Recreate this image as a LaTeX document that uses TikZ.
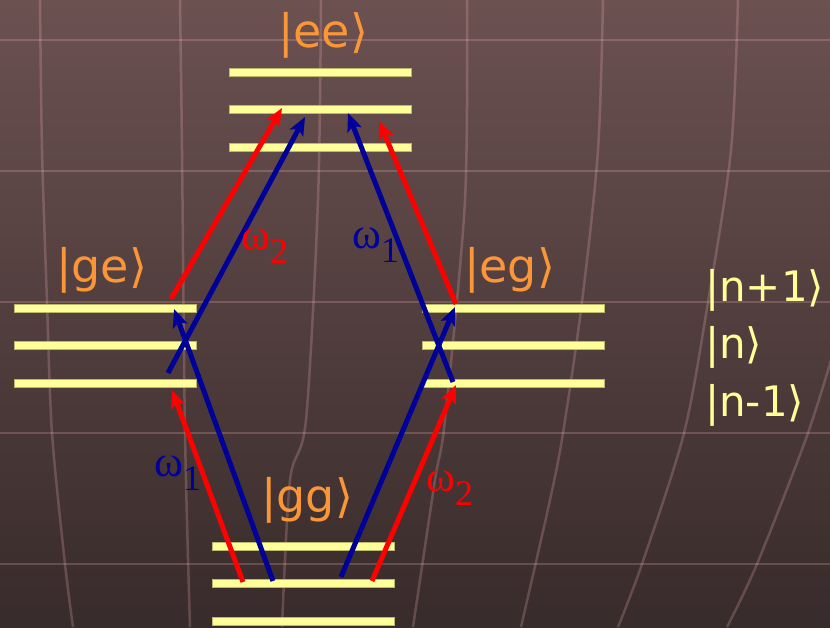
\documentclass[tikz,border=0pt]{standalone}
\usepackage{fontspec}
\setmainfont{DejaVu Sans}
\newfontfamily\greekfont{Liberation Serif}
\definecolor{BgTop}{RGB}{108,81,81}
\definecolor{BgBottom}{RGB}{56,43,43}
\definecolor{GridPink}{RGB}{255,190,190}
\definecolor{LevelYellow}{RGB}{255,255,153}
\definecolor{LevelEdge}{RGB}{185,185,110}
\definecolor{StateOrange}{RGB}{250,150,55}
\definecolor{FieldRed}{RGB}{255,0,0}
\definecolor{FieldBlue}{RGB}{0,0,153}
\usetikzlibrary{arrows.meta}

\newcommand{\omegasub}[1]{ω\raisebox{-14pt}{\fontsize{36}{36}\selectfont #1}}

\tikzset{
  levelbar/.style={fill=LevelYellow,draw=LevelEdge,line width=0.6pt},
  gridline/.style={GridPink,opacity=0.22,line width=2.5pt},
  photon/.style={line width=5pt,-{Stealth[length=18pt,width=15pt,inset=4pt]}},
  statelabel/.style={text=StateOrange,font=\fontsize{46}{46}\selectfont,anchor=base west,inner sep=0pt},
  phononlabel/.style={text=LevelYellow,font=\fontsize{42}{42}\selectfont,anchor=base west,inner sep=0pt},
  freq/.style={font=\greekfont\fontsize{44}{44}\selectfont,anchor=base west,inner sep=0pt},
}

\begin{document}
\begin{tikzpicture}[x=1pt,y=-1pt]
\useasboundingbox (0,0) rectangle (830,627);
% background
\shade[top color=BgTop,bottom color=BgBottom] (0,0) rectangle (830,627);
\begin{scope}
\clip (0,0) rectangle (830,627);
\foreach \y in {40,171,302,433,564}
  \draw[gridline] (0,\y) -- (830,\y);
\draw[gridline] plot[smooth] coordinates {(40,0) (42,150) (47,302) (52,433) (65,564) (73,627)};
\draw[gridline] plot[smooth] coordinates {(180,0) (182,150) (185,433) (190,627)};
\draw[gridline] plot[smooth] coordinates {(321,0) (318,200) (306,420) (290,480) (282,627)};
\draw[gridline] plot[smooth] coordinates {(467,0) (465,200) (445,420) (435,480) (413,627)};
\draw[gridline] plot[smooth] coordinates {(603,0) (598,150) (582,302) (563,433) (550,500) (521,627)};
\draw[gridline] plot[smooth] coordinates {(738,0) (731,150) (708,302) (684,433) (642,564) (618,627)};
\draw[gridline] plot[smooth] coordinates {(840,330) (808,433) (757,564) (727,627)};
\end{scope}

% energy levels: ee, ge, eg, gg
\foreach \xa/\ya in {229/72, 14/308, 422/308, 212/546}
  \foreach \k in {0,1,2}
    \draw[levelbar] (\xa,{\ya+37.5*\k-4}) rectangle ++(182,8);

% arrow ends
\coordinate (ggRedL) at (243,582);
\coordinate (geRedIn) at (172,390);
\coordinate (ggBlueL) at (273,581);
\coordinate (geBlueIn) at (174,309);
\coordinate (geBlueOut) at (168,373);
\coordinate (eeBlueL) at (305,117);
\coordinate (geRedOut) at (171,299);
\coordinate (eeRedL) at (282,108);
\coordinate (egBlueOut) at (453,382);
\coordinate (eeBlueR) at (348,113);
\coordinate (egRedOut) at (456,304);
\coordinate (eeRedR) at (379,121);
\coordinate (ggBlueR) at (341,577);
\coordinate (egBlueIn) at (455,307);
\coordinate (ggRedR) at (372,581);
\coordinate (egRedIn) at (456,385);

% transitions
\draw[photon,FieldRed] (ggRedL) -- (geRedIn);
\draw[photon,FieldBlue] (ggBlueL) -- (geBlueIn);
\draw[photon,FieldBlue] (geBlueOut) -- (eeBlueL);
\draw[photon,FieldRed] (geRedOut) -- (eeRedL);
\draw[photon,FieldBlue] (egBlueOut) -- (eeBlueR);
\draw[photon,FieldRed] (egRedOut) -- (eeRedR);
\draw[photon,FieldBlue] (ggBlueR) -- (egBlueIn);
\draw[photon,FieldRed] (ggRedR) -- (egRedIn);

% state labels
\node[statelabel] (ee) at (278,47) {|ee⟩};
\node[statelabel] (ge) at (56,282) {|ge⟩};
\node[statelabel] (eg) at (464,282) {|eg⟩};
\node[statelabel] (gg) at (261,512) {|gg⟩};
\node[phononlabel] (nUp) at (705,301) {|n+1⟩};
\node[phononlabel] (nMid) at (705,358) {|n⟩};
\node[phononlabel] (nDown) at (705,416) {|n-1⟩};

% frequencies
\node[freq,text=FieldRed] (w2Up) at (241,249) {\omegasub{2}};
\node[freq,text=FieldBlue] (w1Up) at (352,248) {\omegasub{1}};
\node[freq,text=FieldBlue] (w1Down) at (154,476) {\omegasub{1}};
\node[freq,text=FieldRed] (w2Down) at (426,491) {\omegasub{2}};
\end{tikzpicture}
\end{document}
